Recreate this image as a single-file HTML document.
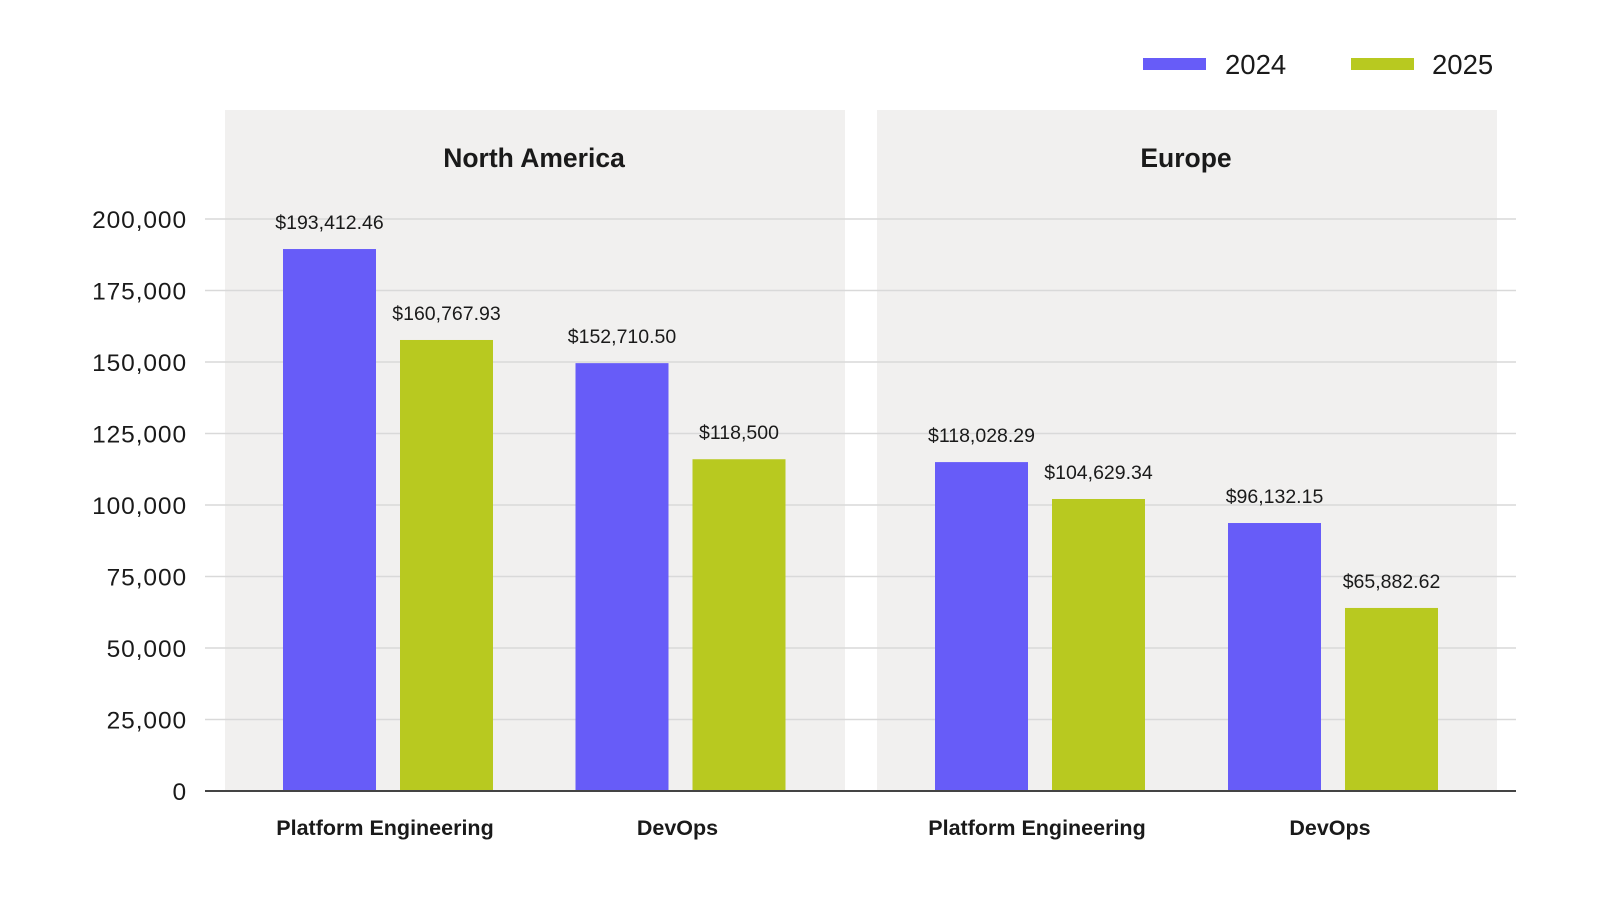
<!DOCTYPE html>
<html><head><meta charset="utf-8"><style>
body{margin:0;background:#fff;}
svg text{font-family:"Liberation Sans",sans-serif;fill:#1a1a1a;}
</style></head><body>
<svg id="chart" width="1600" height="901" xmlns="http://www.w3.org/2000/svg">
<rect width="1600" height="901" fill="#fff"/>
<g>
  <rect x="1143" y="58" width="63" height="12" fill="#675cf8"/>
  <text x="1225" y="74" font-size="27.5">2024</text>
  <rect x="1351" y="58" width="63" height="12" fill="#b8c920"/>
  <text x="1432" y="74" font-size="27.5">2025</text>
</g>
<g id="panels"></g>
<g id="grid"></g>
<g id="bars"></g>
<g id="labels"></g>
</svg>
<script>
const regions = ["North America", "Europe"];
const categories = ["Platform Engineering", "DevOps"];
const values2024 = [189500, 149600, 115000, 93700];
const values2025 = [157700, 116000, 102100, 64000];
const labels2024 = ["$193,412.46", "$152,710.50", "$118,028.29", "$96,132.15"];
const labels2025 = ["$160,767.93", "$118,500", "$104,629.34", "$65,882.62"];
const yTicks = [0, 25000, 50000, 75000, 100000, 125000, 150000, 175000, 200000];
const yTickLabels = ["0", "25,000", "50,000", "75,000", "100,000", "125,000", "150,000", "175,000", "200,000"];

const NS = "http://www.w3.org/2000/svg";
const y0 = 791, yPerUnit = 572 / 200000;
function yScale(v){ return y0 - v * yPerUnit; }
const panelX = [225, 877], panelW = [620, 620];
const groupCenters = [388, 680.5, 1040, 1333];
function xBar(i, s){ return groupCenters[i] - 105 + s * 117; }
const barW = 93;
const axisRight = 1516;
function mk(tag, attrs, parent){ const e = document.createElementNS(NS, tag); for (const k in attrs) e.setAttribute(k, attrs[k]); document.getElementById(parent).appendChild(e); return e; }

regions.forEach((r, i) => {
  const p = mk("rect", {x: panelX[i], y: 110, width: panelW[i], height: y0 - 110, fill: "#f1f0ef"}, "panels");
  
  
  const t = mk("text", {x: panelX[i] + panelW[i] / 2 - 1, y: 167, "font-size": 26.5, "text-anchor": "middle", "font-weight": "bold"}, "panels");
  
  
  t.textContent = r;
});

yTicks.forEach((v, i) => {
  const y = yScale(v);
  if (v > 0) {
    const l = mk("line", {x1: 205, x2: axisRight, y1: y, y2: y, stroke: "#d9d9d9", "stroke-width": 1.5}, "grid");
    
    
  }
  const t = mk("text", {x: 187, y: y + 9, "font-size": 24.5, "text-anchor": "end", "letter-spacing": "0.9"}, "grid");
  
  
  t.textContent = yTickLabels[i];
});

[values2024, values2025].forEach((vals, s) => {
  const labs = s === 0 ? labels2024 : labels2025;
  vals.forEach((v, i) => {
    const x = xBar(i, s), y = yScale(v);
    const b = mk("rect", {x: x, y: y, width: barW, height: y0 - y, fill: s === 0 ? "#675cf8" : "#b8c920"}, "bars");
    
    
    const t = mk("text", {x: x + barW / 2, y: y - 20, "font-size": 19.5, "text-anchor": "middle"}, "labels");
    
    
    t.textContent = labs[i];
  });
});

const ax = mk("line", {x1: 205, x2: axisRight, y1: y0, y2: y0, stroke: "#444", "stroke-width": 2}, "labels");



groupCenters.forEach((c, i) => {
  const t = mk("text", {x: c - 3, y: 835, "font-size": 21.5, "text-anchor": "middle", "font-weight": "bold"}, "labels");
  
  
  t.textContent = categories[i % 2];
});
</script>
</body></html>
